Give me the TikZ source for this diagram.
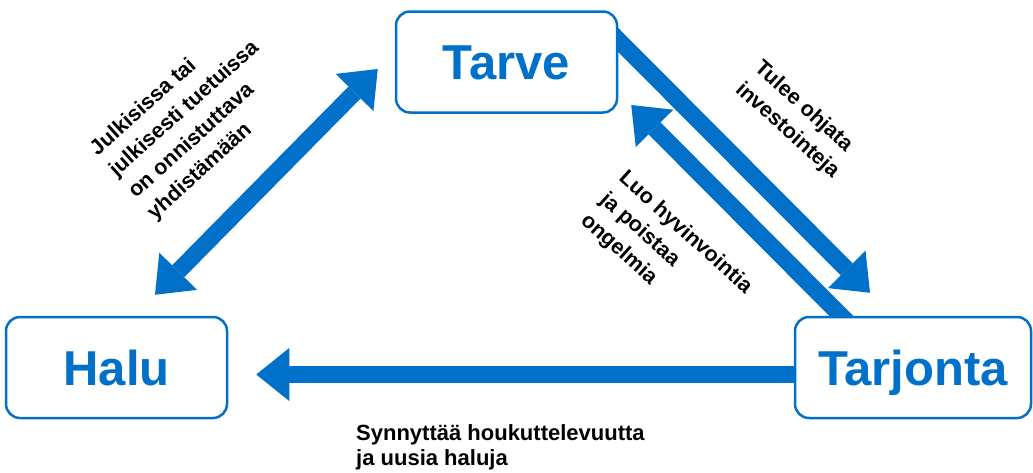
\documentclass[tikz,border=0pt]{standalone}
\usepackage{fontspec}
\setmainfont{Liberation Sans}
\usetikzlibrary{arrows.meta,backgrounds,calc}
\definecolor{sblue}{RGB}{0,112,200}
\tikzset{
  box/.style={draw=sblue, line width=2.5pt, rounded corners=14pt, fill=white,
    text=sblue, font=\fontsize{49}{55}\selectfont\bfseries,
    minimum height=101pt, text height=35pt, text depth=0pt, inner sep=0pt},
  bigarrow/.style={draw=sblue, line width=17pt,
    -{Triangle[length=33pt,width=53pt,line width=0pt]}},
  twoarrow/.style={draw=sblue, line width=17pt,
    {Triangle[length=33pt,width=53pt,line width=0pt]}-{Triangle[length=33pt,width=53pt,line width=0pt]}},
  lbl/.style={font=\fontsize{22}{25}\selectfont\bfseries, align=left,
    inner sep=0pt, anchor=north west},
  rlbl/.style={lbl, font=\fontsize{21.5}{28.5}\selectfont\bfseries}
}
\begin{document}
\begin{tikzpicture}[x=1pt,y=-1pt]
\useasboundingbox (0,0) rectangle (1033,472);
\node[box, minimum width=221pt] (Tarve) at (506.5,62) {Tarve};
\node[box, minimum width=221pt] (Halu) at (116.5,367.5) {Halu};
\node[box, minimum width=236pt] (Tarjonta) at (913,367.5) {Tarjonta};
\begin{scope}[on background layer]
\draw[bigarrow] ($(Tarjonta.west)+(5,7)$) -- ($(Halu.east)+(28,7)$);
\draw[twoarrow] ($(Halu.north)+(38.5,-21)$) -- ($(Tarve.west)+(-17,7)$);
\draw[bigarrow] ($(Tarve.east)+(-10,-32)$) -- ($(Tarjonta.north)+(-43,-23)$);
\draw[bigarrow] ($(Tarjonta.north)+(-62,10)$) -- ($(Tarve.east)+(13,43)$);
\end{scope}
\node[rlbl, rotate=42] (l1) at (87,145) {Julkisissa tai\\julkisesti tuetuissa\\on onnistuttava\\yhdistämään};
\node[rlbl, rotate=-42] (l2) at (764,58) {Tulee ohjata\\investointeja};
\node[rlbl, rotate=-42] (l3) at (628.5,168) {Luo hyvinvointia\\ja poistaa\\ongelmia};
\node[lbl] (l4) at (356,424) {Synnyttää houkuttelevuutta\\ja uusia haluja};
\end{tikzpicture}
\end{document}
